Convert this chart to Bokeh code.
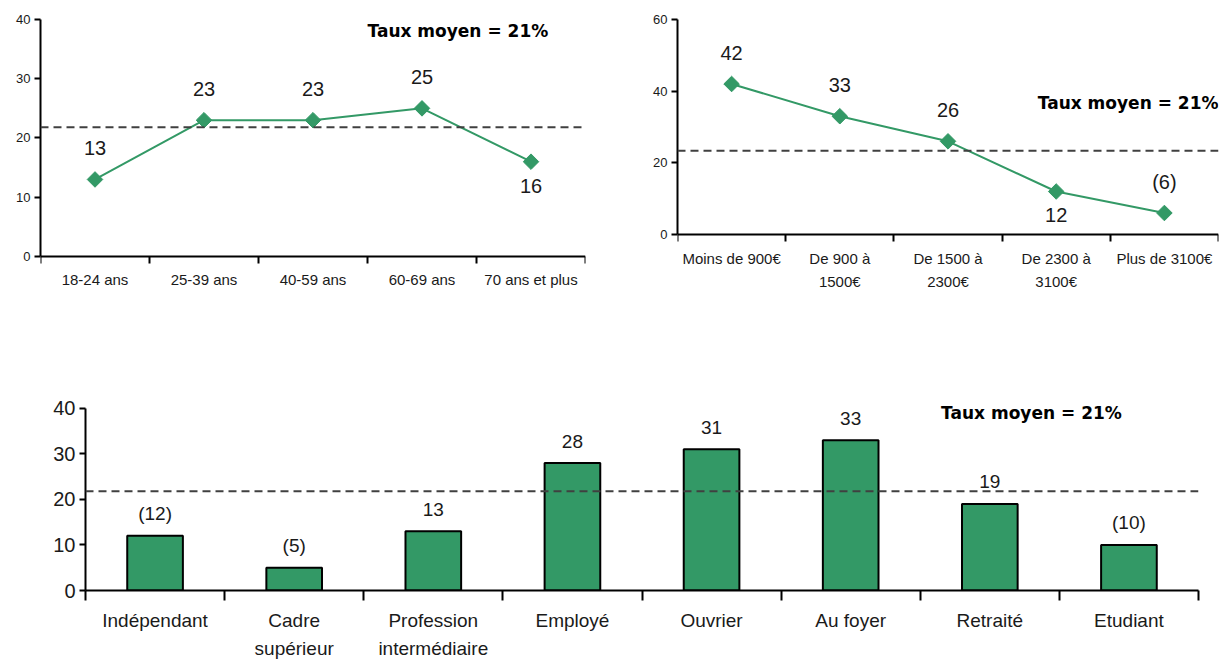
import numpy as np
from bokeh.plotting import figure
from bokeh.models import Range1d, FixedTicker, Span, Label, ColumnDataSource
from bokeh.layouts import column, row
from bokeh.core.properties import value
from bokeh.embed import file_html
from bokeh.resources import INLINE

# ---- data ----
age_cats = ["18-24 ans", "25-39 ans", "40-59 ans", "60-69 ans", "70 ans et plus"]
age_vals = [13, 23, 23, 25, 16]
age_labels = ["13", "23", "23", "25", "16"]
age_side = ["above", "above", "above", "above", "below"]
age_mean_line = 21.8

inc_cats = ["Moins de 900€", "De 900 à\n1500€", "De 1500 à\n2300€", "De 2300 à\n3100€", "Plus de 3100€"]
inc_vals = [42, 33, 26, 12, 6]
inc_labels = ["42", "33", "26", "12", "(6)"]
inc_side = ["above", "above", "above", "below", "above"]
inc_mean_line = 23.4

pro_cats = ["Indépendant", "Cadre\nsupérieur", "Profession\nintermédiaire", "Employé",
            "Ouvrier", "Au foyer", "Retraité", "Etudiant"]
pro_vals = [12, 5, 13, 28, 31, 33, 19, 10]
pro_labels = ["(12)", "(5)", "13", "28", "31", "33", "19", "(10)"]
pro_mean_line = 21.8

title_text = "Taux moyen = 21%"

GREEN = "#339966"
FONT = "Liberation Sans"
TXT = "#1a1a1a"
DASH = "8 5"


def style_axes(p, cats, yticks, xfs, yfs, xstand, tick_len):
    n = len(cats)
    p.xaxis.ticker = FixedTicker(ticks=list(range(n)),
                                 minor_ticks=[i - 0.5 for i in range(n + 1)])
    p.xaxis.major_label_overrides = {i: c for i, c in enumerate(cats)}
    p.xaxis.major_tick_out = 0
    p.xaxis.major_tick_in = 0
    p.xaxis.minor_tick_out = tick_len
    p.xaxis.minor_tick_in = 0
    p.xaxis.minor_tick_line_width = 2
    p.xaxis.minor_tick_line_color = "black"
    p.xaxis.major_label_standoff = xstand
    p.xaxis.major_label_text_line_height = 1.35
    p.yaxis.ticker = FixedTicker(ticks=yticks)
    p.yaxis.major_tick_out = 6
    p.yaxis.major_tick_in = 0
    p.yaxis.major_tick_line_width = 2
    p.yaxis.minor_tick_line_color = None
    p.yaxis.major_label_standoff = 4
    p.yaxis.bounds = (yticks[0], yticks[-1])
    for ax in (p.xaxis, p.yaxis):
        ax.axis_line_width = 2
        ax.axis_line_color = "black"
        ax.major_label_text_font = FONT
        ax.major_label_text_color = TXT
    p.xaxis.major_label_text_font_size = xfs
    p.yaxis.major_label_text_font_size = yfs
    p.xgrid.visible = False
    p.ygrid.visible = False
    p.outline_line_color = None


def make_fig(w, h, ystart, yend, n, bl, br, bt, bb):
    p = figure(width=w, height=h, output_backend="svg", toolbar_location=None,
               x_range=Range1d(-0.5, n - 0.5), y_range=Range1d(ystart, yend),
               min_border_left=bl, min_border_right=br,
               min_border_top=bt, min_border_bottom=bb)
    p.background_fill_color = "white"
    p.border_fill_color = "white"
    return p


def line_panel(p, cats, vals, labels, side, mean_line, tx, ty, talign):
    xs = list(range(len(cats)))
    p.add_layout(Span(location=mean_line, dimension="width", line_color="#404040",
                      line_width=2, line_dash=DASH))
    p.line(xs, vals, line_color=GREEN, line_width=2)
    p.scatter(xs, vals, marker="square", angle=np.pi / 4, size=11,
              fill_color=GREEN, line_color=GREEN)
    offs = [-31 if s == "above" else 24 for s in side]
    src = ColumnDataSource(dict(x=xs, y=vals, t=labels, o=offs))
    p.text(x="x", y="y", text="t", y_offset="o", source=src, text_align="center",
           text_baseline="middle", text_font=value(FONT), text_font_size="20px",
           text_color=TXT)
    p.add_layout(Label(x=tx, y=ty, text=title_text, text_align=talign,
                       text_baseline="middle", text_font="DejaVu Sans",
                       text_font_style="bold", text_font_size="17px",
                       text_color="black"))


# ---- top-left: age (x axis pinned at 0, frame extends under the labels) ----
p1 = make_fig(598, 300, -7.43, 40, len(age_cats), 40, 13, 19, 0)
style_axes(p1, age_cats, [0, 10, 20, 30, 40], "15px", "13px", 8, 7)
p1.xaxis.fixed_location = 0
line_panel(p1, age_cats, age_vals, age_labels, age_side, age_mean_line, 2.5, 38, "left")

# ---- top-right: income ----
p2 = make_fig(628, 300, -18.42, 60, len(inc_cats), 79, 8, 19, 0)
style_axes(p2, inc_cats, [0, 20, 40, 60], "15px", "13px", 9, 7)
p2.xaxis.fixed_location = 0
line_panel(p2, inc_cats, inc_vals, inc_labels, inc_side, inc_mean_line, 4.5, 36.6, "right")

# ---- bottom: profession ----
p3 = make_fig(1218, 362, 0, 45.9, len(pro_cats), 85, 20, 81, 72)
style_axes(p3, pro_cats, [0, 10, 20, 30, 40], "19px", "20px", 9, 10)
xs3 = list(range(len(pro_cats)))
p3.add_layout(Span(location=pro_mean_line, dimension="width", line_color="#404040",
                   line_width=2, line_dash=DASH))
p3.vbar(x=xs3, top=pro_vals, width=0.4, bottom=0, fill_color=GREEN,
        line_color="black", line_width=2)
src3 = ColumnDataSource(dict(x=xs3, y=pro_vals, t=pro_labels))
p3.text(x="x", y="y", text="t", y_offset=-22, source=src3, text_align="center",
        text_baseline="middle", text_font=value(FONT), text_font_size="19px",
        text_color=TXT)
p3.add_layout(Label(x=5.65, y=38.9, text=title_text, text_align="left",
                    text_baseline="middle", text_font="DejaVu Sans",
                    text_font_style="bold", text_font_size="17px",
                    text_color="black"))

layout = column(row(p1, p2), p3)
open("out.html", "w").write(file_html(layout, INLINE))
